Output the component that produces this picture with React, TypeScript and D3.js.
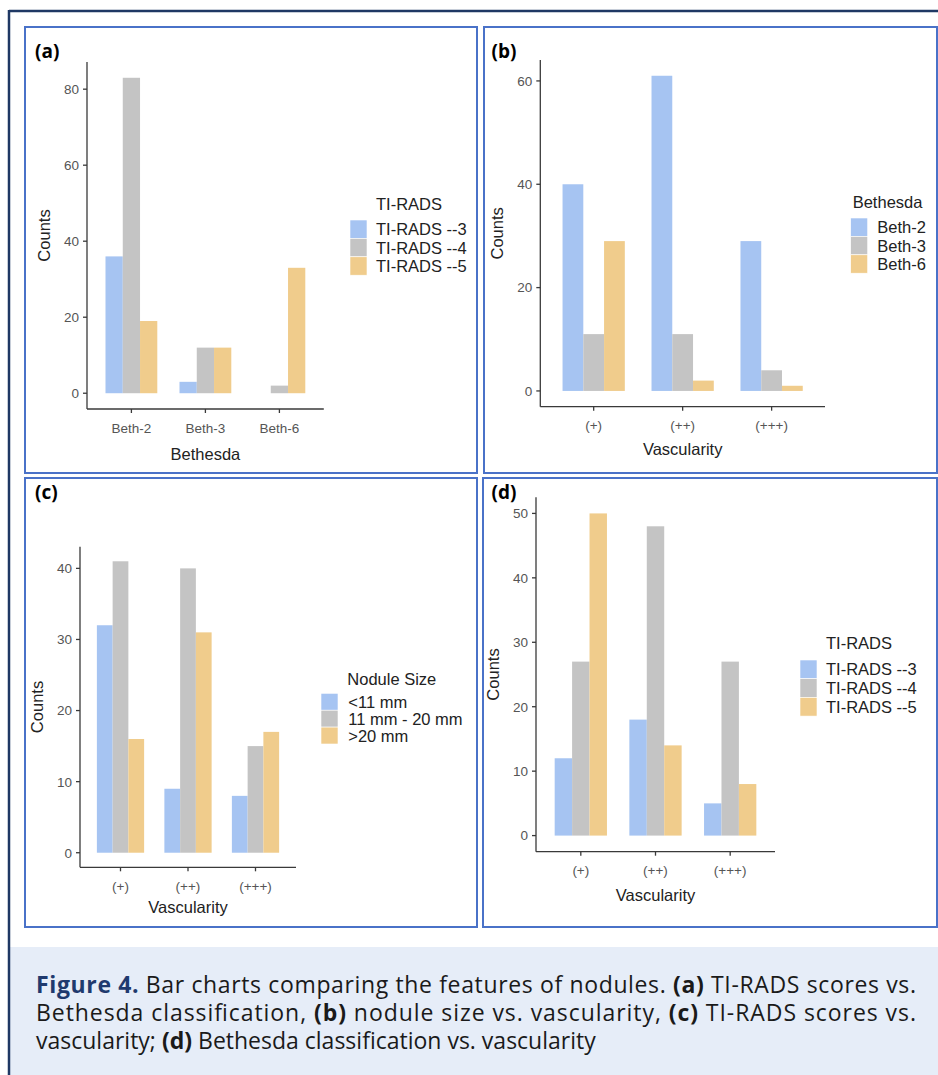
import React from 'react';
import * as d3 from 'd3';

// categories / series
const bethesdaCategories = ['Beth-2', 'Beth-3', 'Beth-6'];
const vascularityCategories = ['(+)', '(++)', '(+++)'];
const tiradsSeries = ['TI-RADS --3', 'TI-RADS --4', 'TI-RADS --5'];
const bethesdaSeries = ['Beth-2', 'Beth-3', 'Beth-6'];
const noduleSizeSeries = ['<11 mm', '11 mm - 20 mm', '>20 mm'];

// counts, one row per x category, one column per series
const panelAValues = [[36, 83, 19], [3, 12, 12], [0, 2, 33]];
const panelBValues = [[40, 11, 29], [61, 11, 2], [29, 4, 1]];
const panelCValues = [[32, 41, 16], [9, 40, 31], [8, 15, 17]];
const panelDValues = [[12, 27, 50], [18, 48, 14], [5, 27, 8]];

// y tick labels
const panelATicks = [0, 20, 40, 60, 80];
const panelBTicks = [0, 20, 40, 60];
const panelCTicks = [0, 10, 20, 30, 40];
const panelDTicks = [0, 10, 20, 30, 40, 50];

const seriesColors = ['#a6c4f2', '#c4c4c4', '#f0cc8c'];

const chartFont = "'Liberation Sans', Arial, sans-serif";
const captionFont = "'Open Sans', 'Noto Sans', sans-serif";

interface Layout {
  box: [number, number, number, number];
  labelPos: [number, number];
  x0: number;
  x1: number;
  yTop: number;
  yBot: number;
  xTitleY: number;
  legend: { titleX: number; titleY: number; keyX: number; keyY: number; step: number; labelX: number };
}

interface PanelProps {
  label: string;
  categories: string[];
  series: string[];
  values: number[][];
  ticks: number[];
  xTitle: string;
  legendTitle: string;
  layout: Layout;
}

const Panel: React.FC<PanelProps> = ({ label, categories, series, values, ticks, xTitle, legendTitle, layout }) => {
  const { box, x0, x1, yTop, yBot, legend } = layout;
  const maxVal = d3.max(values.flat()) as number;

  const xScale = d3.scalePoint<string>().domain(categories).range([x0, x1]).padding(0.6);
  const step = xScale.step();
  const groupW = step * 0.7;
  const inner = d3.scaleBand<string>().domain(series).range([-groupW / 2, groupW / 2]).padding(0);
  const yScale = d3.scaleLinear().domain([-maxVal * 0.05, maxVal * 1.05]).range([yBot, yTop]);
  const axisColor = '#3a3a3a';

  return (
    <g>
      <rect x={box[0]} y={box[1]} width={box[2] - box[0]} height={box[3] - box[1]}
        fill="#fff" stroke="#4a72c8" strokeWidth={2} />
      <text x={layout.labelPos[0]} y={layout.labelPos[1]} fontFamily={captionFont}
        fontWeight={700} fontSize={19} fill="#000">{label}</text>

      {/* bars */}
      {values.map((row, i) =>
        row.map((v, j) => (
          <rect key={`${i}-${j}`}
            x={(xScale(categories[i]) as number) + (inner(series[j]) as number)}
            y={yScale(v)}
            width={inner.bandwidth()}
            height={yScale(0) - yScale(v)}
            fill={seriesColors[j]} />
        ))
      )}

      {/* axes */}
      <line x1={x0} x2={x0} y1={yTop} y2={yBot} stroke={axisColor} strokeWidth={1.3} />
      <line x1={x0} x2={x1} y1={yBot} y2={yBot} stroke={axisColor} strokeWidth={1.3} />
      {ticks.map(t => (
        <g key={t}>
          <line x1={x0 - 4} x2={x0} y1={yScale(t)} y2={yScale(t)} stroke={axisColor} strokeWidth={1.3} />
          <text x={x0 - 8} y={yScale(t)} dy="0.36em" textAnchor="end" fontFamily={chartFont}
            fontSize={13.5} fill="#555">{t}</text>
        </g>
      ))}
      {categories.map(c => (
        <g key={c}>
          <line x1={xScale(c)} x2={xScale(c)} y1={yBot} y2={yBot + 4} stroke={axisColor} strokeWidth={1.3} />
          <text x={xScale(c)} y={yBot + 23.5} textAnchor="middle" fontFamily={chartFont}
            fontSize={13.5} fill="#555">{c}</text>
        </g>
      ))}
      <text x={(x0 + x1) / 2} y={layout.xTitleY} textAnchor="middle" fontFamily={chartFont}
        fontSize={16.5} fill="#222">{xTitle}</text>
      <text transform={`translate(${x0 - 37},${(yTop + yBot) / 2}) rotate(-90)`} textAnchor="middle"
        fontFamily={chartFont} fontSize={16.5} fill="#222">Counts</text>

      {/* legend */}
      <text x={legend.titleX} y={legend.titleY} fontFamily={chartFont} fontSize={16.5} fill="#222">{legendTitle}</text>
      {series.map((s, j) => (
        <g key={s}>
          <rect x={legend.keyX} y={legend.keyY + j * legend.step} width={17} height={legend.step}
            fill={seriesColors[j]} stroke="#fff" strokeWidth={0.6} />
          <text x={legend.labelX} y={legend.keyY + j * legend.step + legend.step / 2 + 6}
            fontFamily={chartFont} fontSize={16.5} fill="#222">{s}</text>
        </g>
      ))}
    </g>
  );
};

const layoutA: Layout = {
  box: [25, 27, 477, 473], labelPos: [35, 58], x0: 87, x1: 323.8, yTop: 62, yBot: 409, xTitleY: 460,
  legend: { titleX: 376, titleY: 210, keyX: 350, keyY: 220, step: 18.4, labelX: 376 },
};
const layoutB: Layout = {
  box: [484, 27, 937, 473], labelPos: [491.5, 58], x0: 540.3, x1: 825, yTop: 60, yBot: 406.7, xTitleY: 455,
  legend: { titleX: 852.7, titleY: 208, keyX: 850.7, keyY: 218, step: 18.4, labelX: 877.3 },
};
const layoutC: Layout = {
  box: [25, 478, 477, 927], labelPos: [35, 499], x0: 80, x1: 296, yTop: 546.7, yBot: 867.3, xTitleY: 912.5,
  legend: { titleX: 347.3, titleY: 685, keyX: 321, keyY: 693.3, step: 16.9, labelX: 348.3 },
};
const layoutD: Layout = {
  box: [483, 478, 937, 927], labelPos: [491.5, 499], x0: 536, x1: 775, yTop: 497.3, yBot: 851.7, xTitleY: 901,
  legend: { titleX: 826, titleY: 649.3, keyX: 800, keyY: 660, step: 18.7, labelX: 826 },
};

const App: React.FC = () => {
  const navy = '#1f3a6e';
  return (
    <svg width={938} height={1075} style={{ position: 'absolute', left: 0, top: 0, background: '#fff' }}>
      <rect x={0} y={0} width={938} height={1075} fill="#fff" />
      {/* caption band */}
      <rect x={10} y={947} width={928} height={128} fill="#e6edf8" />
      {/* outer frame */}
      <line x1={9} x2={938} y1={11} y2={11} stroke="#1f3864" strokeWidth={2.5} />
      <line x1={9} x2={9} y1={10} y2={1075} stroke="#1f3864" strokeWidth={2.5} />

      <Panel label="(a)" categories={bethesdaCategories} series={tiradsSeries} values={panelAValues}
        ticks={panelATicks} xTitle="Bethesda" legendTitle="TI-RADS" layout={layoutA} />
      <Panel label="(b)" categories={vascularityCategories} series={bethesdaSeries} values={panelBValues}
        ticks={panelBTicks} xTitle="Vascularity" legendTitle="Bethesda" layout={layoutB} />
      <Panel label="(c)" categories={vascularityCategories} series={noduleSizeSeries} values={panelCValues}
        ticks={panelCTicks} xTitle="Vascularity" legendTitle="Nodule Size" layout={layoutC} />
      <Panel label="(d)" categories={vascularityCategories} series={tiradsSeries} values={panelDValues}
        ticks={panelDTicks} xTitle="Vascularity" legendTitle="TI-RADS" layout={layoutD} />

      {/* caption */}
      <g fontFamily={captionFont} fontSize={23} fill="#1a1a1a">
        <text x={36} y={993} textLength={880} lengthAdjust="spacing">
          <tspan fill={navy} fontWeight={700}>Figure 4.</tspan> Bar charts comparing the features of nodules.{' '}
          <tspan fontWeight={700}>(a)</tspan> TI-RADS scores vs.
        </text>
        <text x={36} y={1021} textLength={880} lengthAdjust="spacing">
          Bethesda classification, <tspan fontWeight={700}>(b)</tspan> nodule size vs. vascularity,{' '}
          <tspan fontWeight={700}>(c)</tspan> TI-RADS scores vs.
        </text>
        <text x={36} y={1049}>
          vascularity; <tspan fontWeight={700}>(d)</tspan> Bethesda classification vs. vascularity
        </text>
      </g>
    </svg>
  );
};

export default App;
